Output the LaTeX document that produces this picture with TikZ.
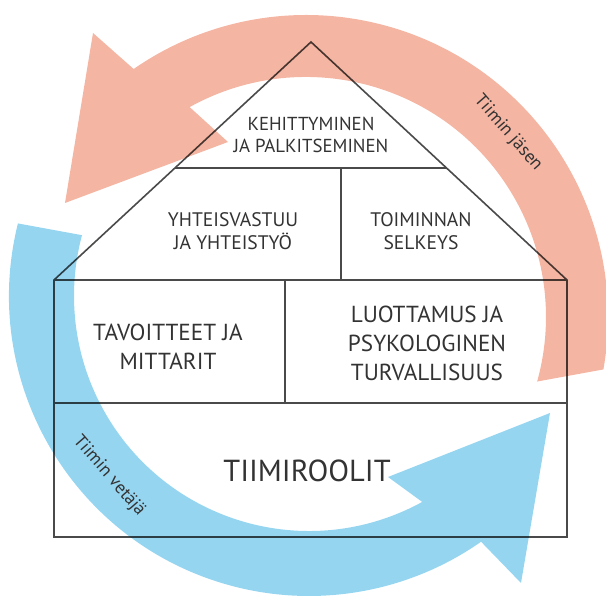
\documentclass[tikz,border=0pt]{standalone}
\usepackage{fontspec}
\setmainfont{PT Sans}
\usetikzlibrary{calc}

\definecolor{jasenpink}{HTML}{F4B5A2}
\definecolor{vetajablue}{HTML}{96D5F0}
\definecolor{seina}{HTML}{4A4A4A}

\begin{document}
\begin{tikzpicture}[
        x=0.5pt, y=0.5pt,
        wall/.style={draw=seina, line width=0.8pt},
        band/.style={blend mode=multiply},
        roofnode/.style={align=center, text=black!80, font=\fontsize{9.4}{11}\selectfont},
        midnode/.style={align=center, text=black!80, font=\fontsize{9.8}{11.5}\selectfont},
        lownode/.style={align=center, text=black!80, font=\fontsize{11.6}{14.5}\selectfont},
        basenode/.style={text=black!80, font=\fontsize{15.2}{18}\selectfont},
        bandnode/.style={text=black!80, font=\fontsize{9}{10}\selectfont, rotate=-49},
      ]
        \useasboundingbox (0,0) rectangle (606,-597);

        % house
        \coordinate (apex)  at (311,-42);
        \coordinate (roofL) at (54,-280);
        \coordinate (roofR) at (567,-280);
        \coordinate (baseL) at (54,-537);
        \coordinate (baseR) at (567,-537);
        \coordinate (topL)  at ($(apex)!0.5294!(roofL)$);
        \coordinate (topR)  at ($(apex)!0.5294!(roofR)$);

        \draw[wall] (roofL) -- (apex) -- (roofR) -- (baseR) -- (baseL) -- cycle;
        \draw[wall] (roofL) -- (roofR);
        \draw[wall] (topL) -- (topR);
        \draw[wall] (341,-168) -- (341,-280);
        \draw[wall] (54,-403) -- (567,-403);
        \draw[wall] (285,-280) -- (285,-403);

        \node[roofnode]  (kehitys)   at (311,-135) {KEHITTYMINEN\\JA PALKITSEMINEN};
        \node[midnode]   (vastuu)    at (233,-231) {YHTEISVASTUU\\JA YHTEISTYÖ};
        \node[midnode]   (selkeys)   at (421,-231) {TOIMINNAN\\SELKEYS};
        \node[lownode]   (tavoite)   at (168,-347) {TAVOITTEET JA\\MITTARIT};
        \node[lownode]   (luottamus) at (427,-343) {LUOTTAMUS JA\\PSYKOLOGINEN\\TURVALLISUUS};
        \node[basenode]  (roolit)    at (307,-471) {TIIMIROOLIT};

        % arrows round the house
        \coordinate (pc) at (306,-317);
        \coordinate (bc) at (309,-296);

        \fill[jasenpink, band] ($(pc)+(-10:302)$) arc[start angle=-10, end angle=124.8, radius=302]
          -- (93,-33) -- (65,-203) -- (228,-142)
          -- ($(pc)+(119:240)$) arc[start angle=119, end angle=-15.6, radius=240] -- cycle;

        \fill[vetajablue, band] ($(bc)+(166:300)$) arc[start angle=166, end angle=305, radius=300]
          -- (521,-583) -- (550,-413) -- (388,-477)
          -- ($(bc)+(298.8:235)$) arc[start angle=298.8, end angle=165, radius=235] -- cycle;

        \node[bandnode] (jasen)  at (508,-133) {Tiimin jäsen};
        \node[bandnode] (vetaja) at (109,-476) {Tiimin vetäjä};
      \end{tikzpicture}
\end{document}
